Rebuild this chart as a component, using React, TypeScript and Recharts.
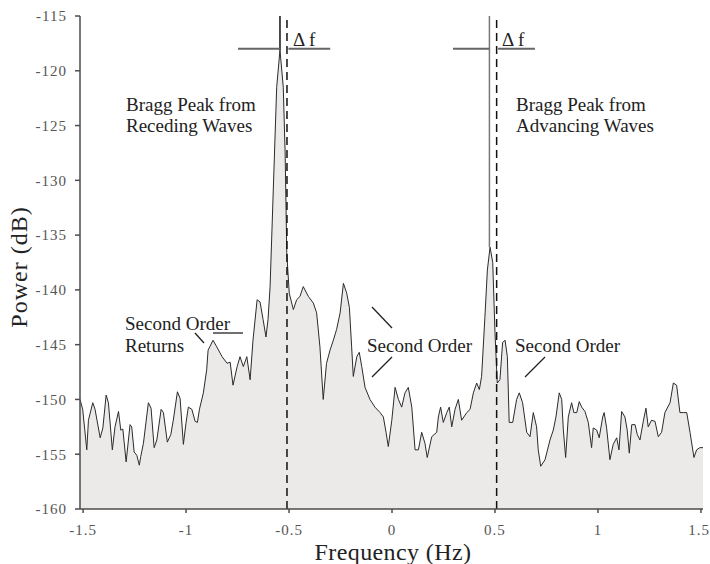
import React from 'react'
import { ComposedChart, Area, XAxis, YAxis, ReferenceLine, Customized } from 'recharts'

// Doppler spectrum
const freqHz = [
  -1.515, -1.502, -1.482, -1.474, -1.453, -1.442, -1.417, -1.404, -1.388, -1.377,
  -1.358, -1.345, -1.328, -1.317, -1.307, -1.291, -1.272, -1.264, -1.252, -1.239,
  -1.227, -1.220, -1.207, -1.183, -1.170, -1.155, -1.142, -1.121, -1.110, -1.091,
  -1.074, -1.062, -1.042, -1.029, -1.013, -1.000, -0.989, -0.972, -0.956, -0.945,
  -0.935, -0.916, -0.900, -0.893, -0.869, -0.851, -0.825, -0.801, -0.786, -0.772,
  -0.752, -0.738, -0.722, -0.705, -0.689, -0.675, -0.655, -0.641, -0.626, -0.612,
  -0.602, -0.592, -0.576, -0.560, -0.544, -0.528, -0.519, -0.511, -0.499, -0.479,
  -0.463, -0.447, -0.431, -0.406, -0.382, -0.366, -0.350, -0.334, -0.318, -0.301,
  -0.285, -0.269, -0.252, -0.236, -0.220, -0.207, -0.196, -0.188, -0.171, -0.159,
  -0.147, -0.131, -0.107, -0.083, -0.058, -0.042, -0.029, -0.018, -0.001, 0.015,
  0.031, 0.047, 0.063, 0.079, 0.096, 0.112, 0.128, 0.144, 0.160, 0.171,
  0.193, 0.217, 0.225, 0.236, 0.249, 0.266, 0.278, 0.290, 0.306, 0.322,
  0.338, 0.363, 0.379, 0.395, 0.411, 0.424, 0.435, 0.451, 0.463, 0.476,
  0.489, 0.500, 0.511, 0.524, 0.537, 0.549, 0.560, 0.569, 0.586, 0.605,
  0.618, 0.634, 0.654, 0.670, 0.686, 0.702, 0.710, 0.722, 0.743, 0.767,
  0.783, 0.796, 0.812, 0.824, 0.832, 0.843, 0.856, 0.872, 0.883, 0.897,
  0.909, 0.921, 0.937, 0.953, 0.969, 0.977, 0.994, 1.006, 1.023, 1.030,
  1.042, 1.058, 1.074, 1.091, 1.102, 1.115, 1.131, 1.142, 1.152, 1.164,
  1.180, 1.191, 1.204, 1.220, 1.233, 1.244, 1.260, 1.277, 1.293, 1.309,
  1.325, 1.350, 1.366, 1.382, 1.398, 1.414, 1.431, 1.447, 1.466, 1.479,
  1.495, 1.510,
]

const powerDb = [
  -150.0, -150.9, -154.6, -151.9, -150.3, -150.9, -153.5, -152.6, -149.6, -150.3,
  -154.6, -152.5, -151.1, -152.8, -152.7, -155.7, -152.3, -152.5, -154.8, -155.1,
  -156.0, -155.2, -154.0, -150.3, -150.8, -154.4, -153.7, -150.9, -151.2, -153.9,
  -153.2, -151.9, -149.3, -149.9, -154.1, -152.1, -150.7, -150.9, -152.0, -152.1,
  -150.9, -149.4, -147.3, -145.5, -144.6, -145.2, -146.1, -146.7, -146.6, -148.7,
  -147.0, -146.1, -147.0, -146.1, -148.2, -144.6, -140.9, -141.1, -142.7, -144.3,
  -142.7, -139.7, -130.6, -121.5, -118.1, -121.5, -127.5, -136.6, -140.3, -141.8,
  -140.9, -140.6, -139.7, -140.6, -141.2, -142.1, -145.2, -150.0, -146.7, -145.5,
  -144.6, -143.6, -142.1, -139.4, -140.3, -141.6, -145.2, -147.9, -146.1, -145.7,
  -147.0, -148.9, -150.0, -150.7, -151.2, -151.6, -153.0, -154.3, -151.9, -148.9,
  -150.0, -150.7, -149.4, -148.9, -150.7, -154.6, -154.6, -153.0, -154.0, -155.3,
  -153.4, -153.0, -151.6, -150.7, -152.1, -151.2, -150.7, -152.5, -150.9, -150.0,
  -151.9, -151.2, -150.9, -149.4, -148.5, -149.1, -147.9, -142.5, -138.2, -136.1,
  -137.5, -143.9, -148.5, -148.2, -144.8, -144.6, -146.1, -152.1, -152.1, -150.0,
  -149.4, -150.3, -153.0, -153.4, -151.2, -152.5, -154.6, -156.1, -155.5, -153.7,
  -152.8, -151.6, -149.4, -150.0, -152.8, -155.3, -151.6, -150.3, -151.2, -151.2,
  -150.2, -150.7, -151.1, -152.1, -154.4, -152.6, -152.8, -153.5, -151.6, -151.2,
  -152.6, -155.5, -154.1, -153.5, -154.6, -151.1, -151.6, -152.8, -154.9, -152.3,
  -152.3, -153.2, -153.7, -152.0, -150.8, -152.5, -151.9, -152.0, -153.4, -153.0,
  -151.2, -150.3, -148.5, -148.7, -151.2, -151.2, -151.2, -153.0, -155.3, -154.6,
  -154.4, -154.4,
]

const xTicks = [-1.5, -1, -0.5, 0, 0.5, 1, 1.5]
const yTicks = [-160, -155, -150, -145, -140, -135, -130, -125, -120, -115]

// Bragg lines / peaks
const braggFreq = [-0.51, 0.508]
const peakFreq = [-0.544, 0.473]
const peakPower = [-118.1, -136.1]
const deltaLevel = -118.0

const data = freqHz.map((f, i) => ({ f, p: powerDb[i] }))

const FONT = "'Liberation Serif', 'Times New Roman', serif"
const AXIS = '#4d4d4d'
const TICK = { fill: '#555', fontSize: 15, fontFamily: FONT, letterSpacing: 1 }

const Annotations = () => (
  <g fontFamily={FONT} fill="#222">
    <text x={126} y={111} fontSize={19}>Bragg Peak from</text>
    <text x={126} y={132} fontSize={19}>Receding Waves</text>
    <text x={516} y={111} fontSize={19}>Bragg Peak from</text>
    <text x={516} y={132} fontSize={19}>Advancing Waves</text>
    <text x={125} y={330} fontSize={19}>Second Order</text>
    <text x={125} y={352} fontSize={19}>Returns</text>
    <text x={367} y={352} fontSize={19}>Second Order</text>
    <text x={515} y={352} fontSize={19}>Second Order</text>
    <text x={293} y={46} fontSize={19}>Δ f</text>
    <text x={502} y={46} fontSize={19}>Δ f</text>
    <text x={294} y={494} fontSize={19}>-f</text>
    <text x={311} y={502} fontSize={14} fill="#555">Bragg</text>
    <text x={499} y={494} fontSize={19}>+f</text>
    <text x={518} y={502} fontSize={14} fill="#555">Bragg</text>
    <g stroke="#222" strokeWidth={1.3}>
      <line x1={195} y1={333} x2={204} y2={343} />
      <line x1={213} y1={333} x2={243} y2={333} />
      <line x1={372} y1={307} x2={392} y2={328} />
      <line x1={372} y1={377} x2={392} y2={357} />
      <line x1={525} y1={377} x2={545} y2={357} />
    </g>
    <text x={393} y={560} fontSize={24} letterSpacing={0.4} textAnchor="middle">Frequency (Hz)</text>
    <text x={27} y={267} fontSize={24} letterSpacing={1} textAnchor="middle"
      transform="rotate(-90 27 267)">Power (dB)</text>
  </g>
)

const App: React.FC = () => {
  return (
    <div style={{ position: 'absolute', left: 0, top: 0 }}>
      <ComposedChart width={710} height={564} data={data}
        margin={{ top: 16, right: 7, left: 0, bottom: 0 }}>
        <XAxis dataKey="f" type="number" domain={[-1.515, 1.51]} ticks={xTicks}
          allowDataOverflow height={55} tick={TICK} tickSize={4} tickMargin={11}
          stroke={AXIS} strokeWidth={1.5} />
        <XAxis xAxisId="top" dataKey="f" type="number" orientation="top"
          domain={[-1.515, 1.51]} ticks={xTicks} allowDataOverflow height={0}
          tickFormatter={() => ''} tickSize={5} stroke={AXIS} strokeWidth={1.5} />
        <YAxis type="number" domain={[-160, -115]} ticks={yTicks} width={80}
          tick={TICK} tickSize={5} tickMargin={8} stroke={AXIS} strokeWidth={1.5}
          allowDataOverflow />
        <YAxis yAxisId="right" orientation="right" type="number" domain={[-160, -115]}
          ticks={yTicks} width={0} tickFormatter={() => ''} tickSize={5}
          stroke={AXIS} strokeWidth={1.5} allowDataOverflow />
        <Area type="linear" dataKey="p" baseValue="dataMin" stroke="#2b2b2b"
          strokeWidth={1} fill="#ece9e9" fillOpacity={1} isAnimationActive={false} />
        {braggFreq.map((b) => (
          <ReferenceLine key={'b' + b} x={b} stroke="#111" strokeWidth={1.5}
            strokeDasharray="8 5" />
        ))}
        <ReferenceLine segment={[{ x: peakFreq[0], y: -115 }, { x: peakFreq[0], y: peakPower[0] }]}
          stroke="#111" strokeWidth={1.5} />
        <ReferenceLine segment={[{ x: peakFreq[1], y: -115 }, { x: peakFreq[1], y: peakPower[1] }]}
          stroke="#777" strokeWidth={1.5} />
        <ReferenceLine segment={[{ x: -0.748, y: deltaLevel }, { x: peakFreq[0], y: deltaLevel }]}
          stroke="#666" strokeWidth={2} />
        <ReferenceLine segment={[{ x: -0.503, y: deltaLevel }, { x: -0.3, y: deltaLevel }]}
          stroke="#666" strokeWidth={2} />
        <ReferenceLine segment={[{ x: 0.296, y: deltaLevel }, { x: peakFreq[1], y: deltaLevel }]}
          stroke="#666" strokeWidth={2} />
        <ReferenceLine segment={[{ x: 0.515, y: deltaLevel }, { x: 0.694, y: deltaLevel }]}
          stroke="#666" strokeWidth={2} />
        <Customized component={Annotations} />
      </ComposedChart>
    </div>
  )
}

export default App
